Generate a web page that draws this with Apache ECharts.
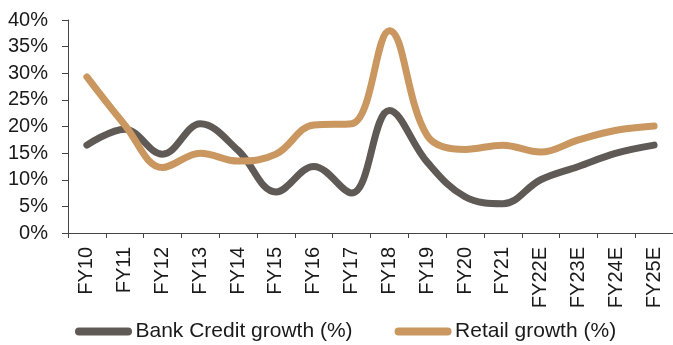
<!DOCTYPE html>
<html>
<head>
<meta charset="utf-8">
<style>
  html, body { margin: 0; padding: 0; background: #fff; }
  #chart { width: 673px; height: 345px; }
</style>
<script src="https://cdn.jsdelivr.net/npm/echarts@6/dist/echarts.min.js"></script>
</head>
<body>
<div id="chart"></div>
<script>
// Fiscal years, actual and estimated
const categories = ['FY10', 'FY11', 'FY12', 'FY13', 'FY14', 'FY15', 'FY16', 'FY17',
  'FY18', 'FY19', 'FY20', 'FY21', 'FY22E', 'FY23E', 'FY24E', 'FY25E'];

// Growth rates, in percent
const bankCreditGrowth = [16.5, 19.5, 14.8, 20.5, 15.5, 7.7, 12.5, 7.5,
  23.0, 13.3, 6.8, 5.5, 10.0, 12.5, 15.0, 16.5];
const retailGrowth = [29.3, 20.3, 12.3, 15.0, 13.5, 14.8, 20.3, 20.5,
  38.0, 18.3, 15.7, 16.5, 15.2, 17.5, 19.3, 20.1];

const seriesNames = ['Bank Credit growth (%)', 'Retail growth (%)'];
const colors = ['#605a56', '#c9975f'];

const FONT = 'Liberation Sans, Arial, sans-serif';
const pill = 'path://M4,0 H53 A4,4 0 0 1 53,8 H4 A4,4 0 0 1 4,0 Z';
const SMOOTH = 0.38;

const chart = echarts.init(document.getElementById('chart'), null, { renderer: 'canvas' });

chart.setOption({
  animation: false,
  color: colors,
  textStyle: { fontFamily: FONT },
  grid: { left: 68, right: -4, top: 20, bottom: 112, containLabel: false },
  legend: {
    left: 75,
    top: 321,
    padding: 0,
    itemWidth: 58,
    itemHeight: 8,
    itemGap: 42,
    icon: pill,
    textStyle: { fontSize: 21, color: '#1a1a1a', fontFamily: FONT, padding: [0, 0, 0, -2] },
    data: seriesNames
  },
  xAxis: {
    type: 'category',
    data: categories,
    boundaryGap: true,
    axisLine: { lineStyle: { color: '#444', width: 1 } },
    axisTick: { show: true, length: 5, alignWithLabel: false, lineStyle: { color: '#444' } },
    axisLabel: { rotate: 90, margin: 14, fontSize: 20, color: '#1a1a1a', fontFamily: FONT, interval: 0 },
    splitLine: { show: false }
  },
  yAxis: {
    type: 'value',
    min: 0,
    max: 40,
    interval: 5,
    axisLine: { show: true, lineStyle: { color: '#444', width: 1 } },
    axisTick: { show: true, length: 6, lineStyle: { color: '#444' } },
    axisLabel: { formatter: '{value}%', margin: 20, fontSize: 20, color: '#1a1a1a', fontFamily: FONT },
    splitLine: { show: false }
  },
  series: [
    {
      name: seriesNames[0],
      type: 'line',
      data: bankCreditGrowth,
      smooth: SMOOTH,
      symbol: 'none',
      lineStyle: { width: 7, color: colors[0], cap: 'round', join: 'round' },
      itemStyle: { color: colors[0] }
    },
    {
      name: seriesNames[1],
      type: 'line',
      data: retailGrowth,
      smooth: SMOOTH,
      symbol: 'none',
      lineStyle: { width: 7, color: colors[1], cap: 'round', join: 'round' },
      itemStyle: { color: colors[1] }
    }
  ]
});
</script>
</body>
</html>
